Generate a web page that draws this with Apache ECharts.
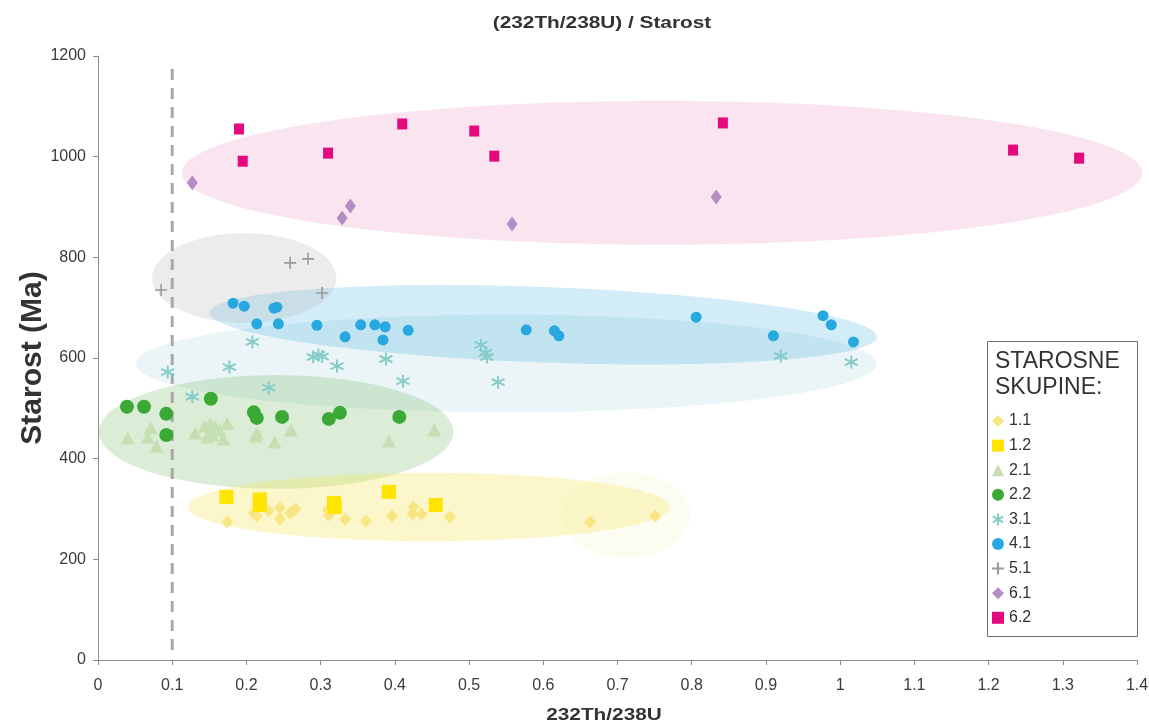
<!DOCTYPE html>
<html>
<head>
<meta charset="utf-8">
<script src="https://cdn.jsdelivr.net/npm/echarts@6/dist/echarts.min.js"></script>
<style>
  html, body { margin: 0; padding: 0; background: #fff; }
  #chart { width: 1149px; height: 727px; }
</style>
</head>
<body>
<div id="chart"></div>
<script>
// Age groups: [232Th/238U ratio, age in Ma]
const grp11 = [[0.174,274],[0.210,292],[0.214,286],[0.230,296],[0.245,302],[0.245,280],[0.259,292],[0.266,300],[0.310,298],[0.311,288],[0.333,280],[0.361,276],[0.396,286],[0.425,304],[0.424,290],[0.436,290],[0.474,284],[0.663,274],[0.751,286]];
const grp12 = [[0.173,324],[0.218,319],[0.218,308],[0.318,312],[0.319,304],[0.392,334],[0.455,308]];
const grp21 = [[0.040,441],[0.071,461],[0.067,443],[0.079,425],[0.131,451],[0.144,465],[0.151,469],[0.158,464],[0.174,470],[0.154,447],[0.169,439],[0.147,443],[0.164,457],[0.214,451],[0.212,445],[0.238,433],[0.260,457],[0.392,435],[0.453,457]];
const grp22 = [[0.039,503],[0.062,503],[0.092,489],[0.092,447],[0.152,519],[0.210,492],[0.214,481],[0.248,483],[0.311,479],[0.326,491],[0.406,483]];
const grp31 = [[0.094,572],[0.127,523],[0.177,582],[0.208,632],[0.230,541],[0.290,602],[0.297,606],[0.302,603],[0.322,584],[0.388,598],[0.411,554],[0.516,626],[0.522,610],[0.524,602],[0.539,552],[0.920,604],[1.015,592]];
const grp41 = [[0.182,709],[0.197,703],[0.237,699],[0.241,701],[0.214,668],[0.243,668],[0.295,665],[0.333,642],[0.354,666],[0.373,666],[0.387,662],[0.384,636],[0.418,655],[0.577,656],[0.615,654],[0.621,644],[0.806,681],[0.910,644],[0.977,684],[0.988,666],[1.018,632]];
const grp51 = [[0.085,735],[0.259,789],[0.283,797],[0.302,729]];
const grp61 = [[0.127,948],[0.329,878],[0.340,902],[0.558,866],[0.833,920]];
const grp62 = [[0.190,1055],[0.195,991],[0.310,1007],[0.410,1065],[0.507,1051],[0.534,1001],[0.842,1067],[1.233,1013],[1.322,997]];

const groupNames = ['1.1','1.2','2.1','2.2','3.1','4.1','5.1','6.1','6.2'];

// Group envelopes: [centre ratio, centre age, half-width (ratio), half-height (Ma), tilt in degrees]
const envelopes = [
  [0.760, 968, 0.647, 143, 0],    // 6.x
  [0.550, 589, 0.499, 97, 0],     // 3.1
  [0.600, 666, 0.450, 75, 2.1],   // 4.1
  [0.197, 759, 0.124, 89, 0],     // 5.1
  [0.240, 453, 0.239, 113, 0],    // 2.x
  [0.446, 304, 0.325, 68, 0],     // 1.x
  [0.712, 288, 0.086, 85, 0]      // 1.1 outliers
];
const envelopeFills = [
  'rgba(230,120,180,0.2)',
  'rgba(120,190,200,0.15)',
  'rgba(30,160,220,0.2)',
  'rgba(180,180,180,0.25)',
  'rgba(110,185,90,0.25)',
  'rgba(245,230,80,0.3)',
  'rgba(240,235,160,0.15)'
];

// Reference ratio line
const refRatio = 0.1;
const refAgeSpan = [20, 1178];

const xTickLabels = ['0','0.1','0.2','0.3','0.4','0.5','0.6','0.7','0.8','0.9','1','1.1','1.2','1.3','1.4'];
const yTickLabels = ['0','200','400','600','800','1000','1200'];

const titleText = '(232Th/238U) / Starost';
const xName = '232Th/238U';
const yName = 'Starost (Ma)';

const asteriskPath = 'path://M5,0L5,10M0.7,2.5L9.3,7.5M0.7,7.5L9.3,2.5';
const plusPath = 'path://M5,0L5,10M0,5L10,5';

const font = '"Liberation Sans", Arial, sans-serif';

const chart = echarts.init(document.getElementById('chart'), null, { renderer: 'canvas' });

function ellipseItem(params, api) {
  const c = api.coord([api.value(0), api.value(1)]);
  const s = api.size([api.value(2), api.value(3)]);
  const t = api.value(4) * Math.PI / 180;
  const pts = [];
  const n = 120;
  for (let i = 0; i < n; i++) {
    const a = i / n * Math.PI * 2;
    const ex = s[0] * Math.cos(a), ey = s[1] * Math.sin(a);
    pts.push([c[0] + ex * Math.cos(t) - ey * Math.sin(t), c[1] + ex * Math.sin(t) + ey * Math.cos(t)]);
  }
  return { type: 'polygon', shape: { points: pts }, style: { fill: envelopeFills[params.dataIndex] }, silent: true };
}

function scatter(name, data, symbol, size, color, stroke) {
  const s = {
    name, type: 'scatter', data, symbol, symbolSize: size, z: 5,
    itemStyle: { color: color, opacity: 1 },
    emphasis: { disabled: true }
  };
  if (stroke) {
    s.itemStyle = { color: 'rgba(0,0,0,0)', borderColor: color, borderWidth: stroke, opacity: 1 };
  }
  return s;
}

const option = {
  animation: false,
  backgroundColor: '#fff',
  grid: { left: 98, right: 12, top: 56, bottom: 67, containLabel: false, outerBoundsMode: 'none' },
  xAxis: {
    type: 'value', min: 0, max: 1.4, interval: 0.1,
    axisLine: { show: true, onZero: false, lineStyle: { color: '#8c8c8c', width: 1 } },
    axisTick: { show: true, length: 5, lineStyle: { color: '#8c8c8c' } },
    splitLine: { show: false },
    axisLabel: {
      margin: 18, fontFamily: font, fontSize: 16, color: '#3a3a3a',
      formatter: v => xTickLabels[Math.round(v * 10)]
    }
  },
  yAxis: {
    type: 'value', min: 0, max: 1200, interval: 200,
    name: yName, nameLocation: 'middle', nameGap: 50, nameRotate: 90, nameMoveOverlap: false,
    nameTextStyle: { fontFamily: font, fontWeight: 'bold', fontSize: 30, color: '#333' },
    axisLine: { show: true, onZero: false, lineStyle: { color: '#8c8c8c', width: 1 } },
    axisTick: { show: true, length: 5, lineStyle: { color: '#8c8c8c' } },
    splitLine: { show: false },
    axisLabel: {
      margin: 12, fontFamily: font, fontSize: 16, color: '#3a3a3a',
      formatter: v => yTickLabels[Math.round(v / 200)]
    }
  },
  legend: {
    data: groupNames,
    orient: 'vertical', left: 991, top: 413, padding: 0,
    itemWidth: 12, itemHeight: 12, itemGap: 8.6,
    textStyle: { fontFamily: font, fontSize: 16, color: '#333' },
    selectedMode: false, z: 10
  },
  graphic: [
    // chart title and x-axis caption, drawn in the wide bold face
    { type: 'text', x: 602, y: 24, scaleX: 1.3, z: 5,
      style: { text: titleText, font: 'bold 16px ' + font, fill: '#333', textAlign: 'center', textVerticalAlign: 'middle' } },
    { type: 'text', x: 604, y: 716, scaleX: 1.3, z: 5,
      style: { text: xName, font: 'bold 16px ' + font, fill: '#333', textAlign: 'center', textVerticalAlign: 'middle' } },
    // legend frame and heading
    { type: 'rect', left: 987, top: 341, z: 1,
      shape: { width: 150, height: 295 },
      style: { fill: '#fff', stroke: '#6e6e6e', lineWidth: 1 } },
    { type: 'text', left: 995, top: 349, z: 2,
      style: { text: 'STAROSNE\nSKUPINE:', font: '23px ' + font, fill: '#333', lineHeight: 26 } }
  ],
  series: [
    { type: 'custom', name: 'envelopes', data: envelopes, renderItem: ellipseItem,
      encode: { x: 0, y: 1 }, z: 1, silent: true, clip: false },
    { type: 'line', name: 'ref', data: [[refRatio, refAgeSpan[0]], [refRatio, refAgeSpan[1]]],
      symbol: 'none', z: 3, silent: true,
      lineStyle: { color: '#a8a8a8', width: 3, type: [11, 8] } },
    scatter('1.1', grp11, 'diamond', [12, 13], '#f8e682'),
    scatter('1.2', grp12, 'rect', 14, '#ffe400'),
    scatter('2.1', grp21, 'triangle', [14, 13], '#c6dfb2'),
    scatter('2.2', grp22, 'circle', 14, '#3ba935'),
    scatter('3.1', grp31, asteriskPath, 13, '#86cdc9', 2),
    scatter('4.1', grp41, 'circle', 11, '#27a8e0'),
    scatter('5.1', grp51, plusPath, 12, '#9a9a9a', 1.6),
    scatter('6.1', grp61, 'diamond', [11, 15], '#b58cc5'),
    scatter('6.2', grp62, 'rect', [10, 11], '#e5097f')
  ]
};

chart.setOption(option);
</script>
</body>
</html>
